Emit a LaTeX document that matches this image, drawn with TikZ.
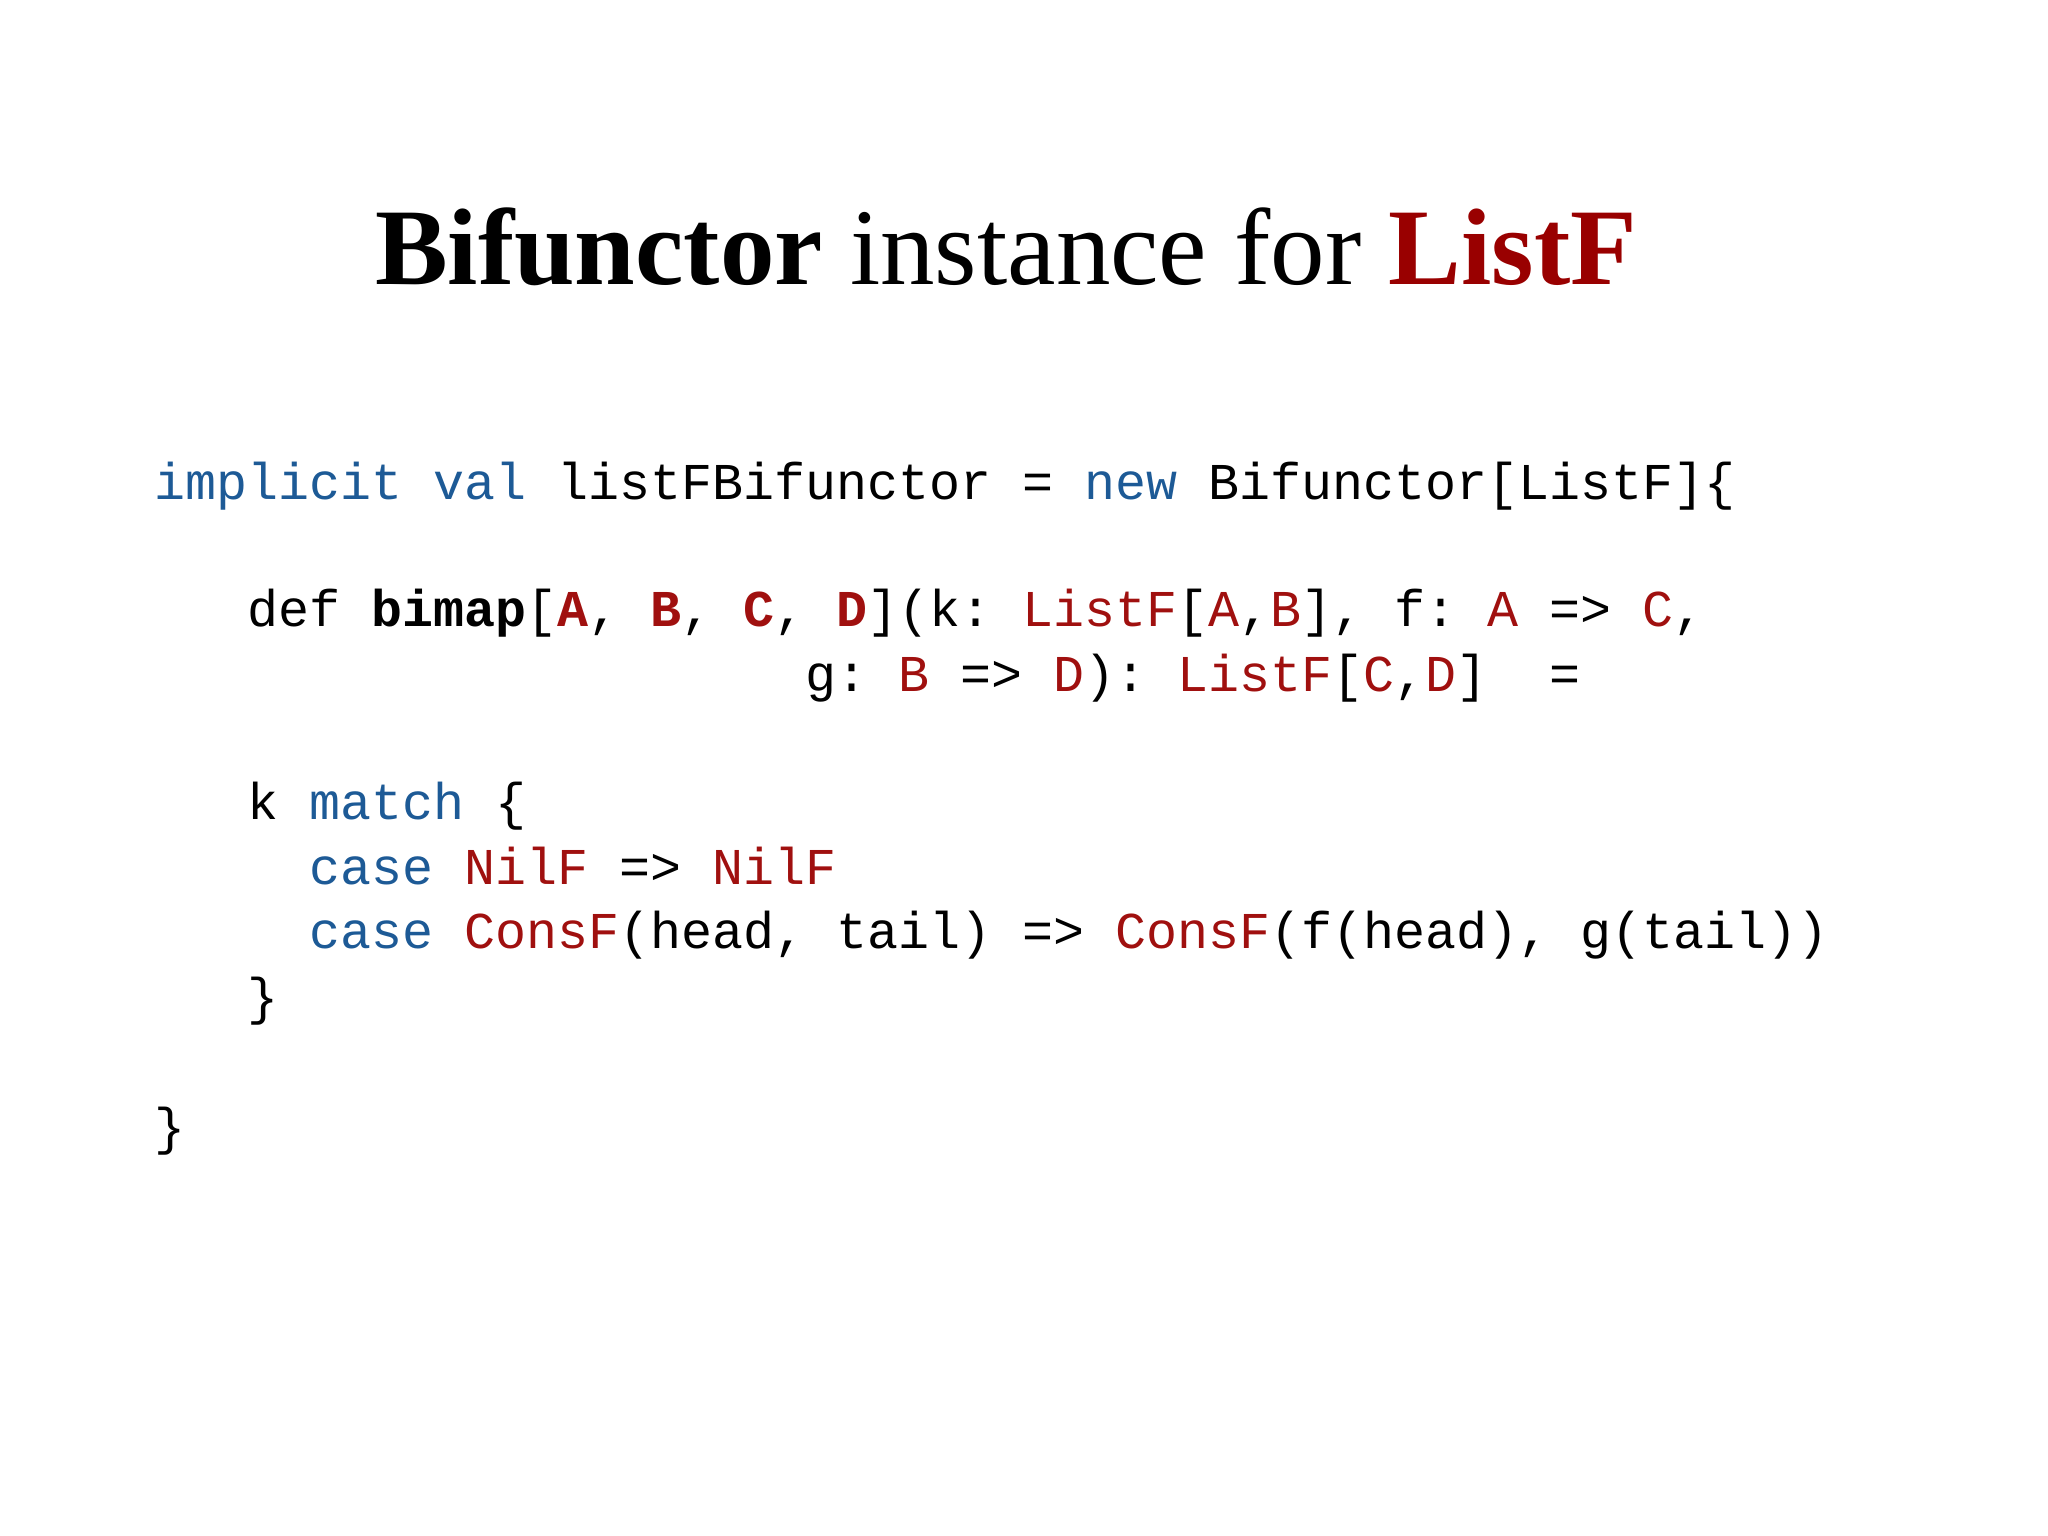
\documentclass[tikz,border=0pt]{standalone}
\usepackage{fontspec}
\setmainfont{Liberation Serif}
\setmonofont{Liberation Mono}
\definecolor{kw}{HTML}{1D5A96}
\definecolor{ty}{HTML}{A0100F}
\definecolor{tt}{HTML}{990000}
\newcommand{\K}[1]{\textcolor{kw}{#1}}
\newcommand{\T}[1]{\textcolor{ty}{#1}}
\tikzset{code/.style={anchor=base west,inner sep=0pt,font=\fontsize{14.7}{17}\ttfamily}}
\begin{document}
\begin{tikzpicture}[x=1cm,y=1cm]
\useasboundingbox (0,0) rectangle (20.48,15.36);
\node[anchor=base,inner sep=0pt,font=\fontsize{31}{36}\selectfont] (title) at (10.06,12.51) {\textbf{Bifunctor} instance for \textcolor{tt}{\textbf{ListF}}};
\def\cw{0.31}
\node[code] (l1) at (1.54,10.36) {\K{implicit val} listFBifunctor = \K{new} Bifunctor[ListF]\{};
\node[code] (l2) at (1.54+3*\cw,9.09) {def \textbf{bimap}[\T{\textbf{A}}, \T{\textbf{B}}, \T{\textbf{C}}, \T{\textbf{D}}](k: \T{ListF}[\T{A},\T{B}], f: \T{A} => \T{C},};
\node[code] (l3) at (1.54+21*\cw,8.44) {g: \T{B} => \T{D}): \T{ListF}[\T{C},\T{D}]\ \ =};
\node[code] (l4) at (1.54+3*\cw,7.16) {k \K{match} \{};
\node[code] (l5) at (1.54+5*\cw,6.51) {\K{case} \T{NilF} => \T{NilF}};
\node[code] (l6) at (1.54+5*\cw,5.87) {\K{case} \T{ConsF}(head, tail) => \T{ConsF}(f(head), g(tail))};
\node[code] (l7) at (1.54+3*\cw,5.21) {\}};
\node[code] (l8) at (1.54,3.91) {\}};
\end{tikzpicture}
\end{document}
